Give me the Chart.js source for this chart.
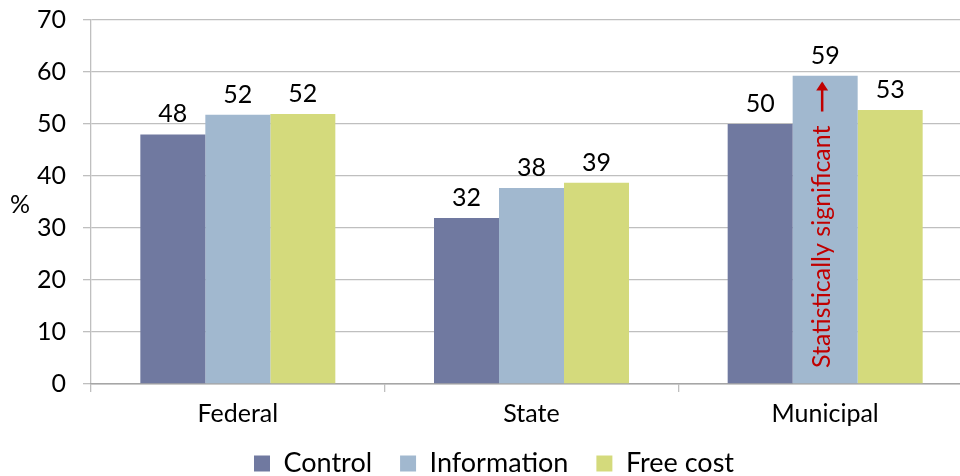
<!DOCTYPE html>
<html><head><meta charset="utf-8">
<script src="https://cdn.jsdelivr.net/npm/chart.js@4/dist/chart.umd.min.js"></script>
<style>html,body{margin:0;padding:0;background:#fff;overflow:hidden}#wrap{width:960px;height:476px;overflow:hidden}</style>
</head><body><div id="wrap"><canvas id="c" width="972" height="476"></canvas></div>
<script>
const categories = ["Federal", "State", "Municipal"];
const controlValues = [48.0, 31.9, 50.0];
const informationValues = [51.8, 37.7, 59.3];
const freeCostValues = [51.9, 38.7, 52.7];
const seriesNames = ["Control", "Information", "Free cost"];
const yTicks = [0, 10, 20, 30, 40, 50, 60, 70];
const note = "Statistically significant";

const FONT = "Lato, 'Open Sans', sans-serif";
const colors = ["#7079a0", "#a1b8cf", "#d4da7c"];

const legendShift = {
  id: "legendShift",
  afterLayout(chart) {
    const lg = chart.legend;
    if (!lg) return;
    lg.top -= 9;
    lg.left += 8; lg.right += 8;
  }
};

const labelPlugin = {
  id: "labels",
  afterDatasetsDraw(chart) {
    const ctx = chart.ctx;
    ctx.save();
    ctx.fillStyle = "#000";
    ctx.font = "25px " + FONT;
    ctx.textAlign = "center";
    ctx.textBaseline = "alphabetic";
    chart.data.datasets.forEach((ds, i) => {
      chart.getDatasetMeta(i).data.forEach((bar, j) => {
        ctx.fillText(Math.round(ds.data[j]).toString(), bar.x, bar.y - 12);
      });
    });
    ctx.textAlign = "center";
    ctx.textBaseline = "middle";
    ctx.fillText("%", 20, 205);
    const bar = chart.getDatasetMeta(1).data[2];
    const y0 = chart.scales.y.getPixelForValue(0);
    ctx.fillStyle = "#c00000";
    ctx.font = "25px " + FONT;
    ctx.translate(bar.x - 3, y0 - 16);
    ctx.rotate(-Math.PI / 2);
    ctx.textAlign = "left";
    ctx.textBaseline = "middle";
    ctx.fillText(note, 0, 0);
    const w = ctx.measureText(note).width;
    const a0 = w + 14, a1 = w + 44;
    ctx.strokeStyle = "#c00000";
    ctx.lineWidth = 2.5;
    ctx.beginPath();
    ctx.moveTo(a0, 0); ctx.lineTo(a1 - 2, 0);
    ctx.stroke();
    ctx.beginPath();
    ctx.moveTo(a1, 0); ctx.lineTo(a1 - 9, -6); ctx.lineTo(a1 - 9, 6); ctx.closePath();
    ctx.fillStyle = "#c00000";
    ctx.fill();
    ctx.restore();
  }
};

new Chart(document.getElementById("c"), {
  type: "bar",
  data: {
    labels: categories,
    datasets: [
      { label: seriesNames[0], data: controlValues, backgroundColor: colors[0] },
      { label: seriesNames[1], data: informationValues, backgroundColor: colors[1] },
      { label: seriesNames[2], data: freeCostValues, backgroundColor: colors[2] }
    ]
  },
  options: {
    responsive: false,
    animation: false,
    devicePixelRatio: 1,
    categoryPercentage: 0.664,
    barPercentage: 1.0,
    layout: { padding: { top: 20, right: 0, left: 0, bottom: 0 } },
    plugins: {
      legend: {
        position: "bottom",
        maxHeight: 45,
        labels: { font: { size: 27, family: FONT }, color: "#000", boxWidth: 16, boxHeight: 16, padding: 28 }
      },
      tooltip: { enabled: false }
    },
    scales: {
      y: {
        min: 0, max: 70,
        afterBuildTicks(s) { s.ticks = yTicks.map(v => ({ value: v })); },
        afterFit(s) { s.width = 91; s.paddingTop = 0; s.paddingBottom = 0; },
        ticks: { font: { size: 25, family: FONT }, color: "#000", padding: 17 },
        grid: { color: "#bfbfbf", lineWidth: 1.3, tickLength: 8 },
        border: { color: "#bfbfbf", width: 1.3 }
      },
      x: {
        afterFit(s) { s.height = 47; s.paddingLeft = 0; s.paddingRight = 0; },
        ticks: { font: { size: 25, family: FONT }, color: "#000", padding: 7 },
        grid: { drawOnChartArea: false, color: "#bfbfbf", tickLength: 8, lineWidth: 1.3 },
        border: { color: "#a6a6a6", width: 1.5 }
      }
    }
  },
  plugins: [labelPlugin, legendShift]
});
</script></body></html>
